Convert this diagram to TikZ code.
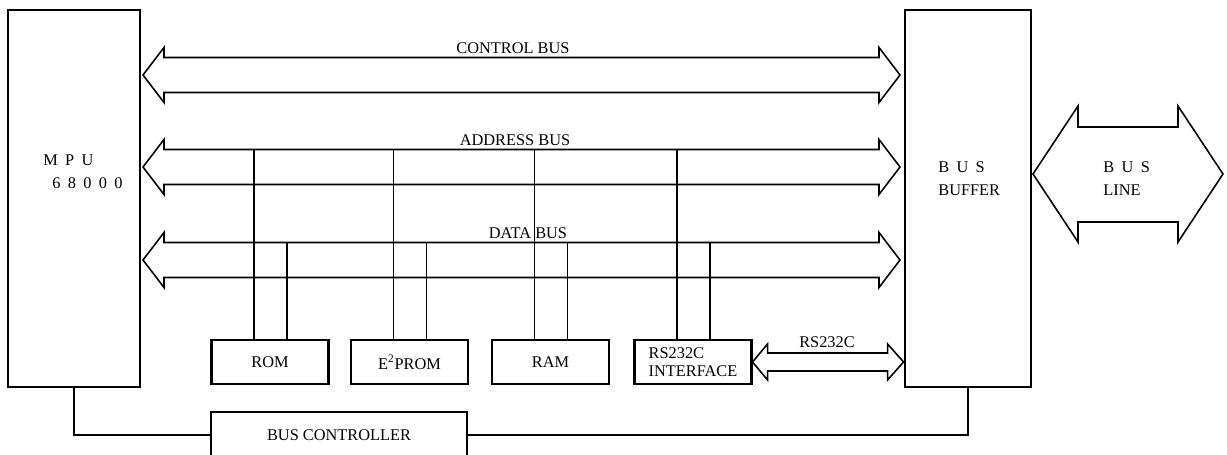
\documentclass[tikz,border=0pt]{standalone}
\usepackage{fontspec}
\setmainfont{Liberation Serif}
\begin{document}
\begin{tikzpicture}[x=0.02cm, y=-0.02cm, line join=miter,
    blk/.style={draw, line width=1.2pt, inner sep=0pt, font=\fontsize{9.3}{10.2}\selectfont},
    mem/.style={blk, minimum width=2.34cm, minimum height=0.88cm},
    bus/.style={draw, line width=0.9pt},
    wire/.style={draw, line width=1pt},
    txt/.style={inner sep=0pt, font=\fontsize{9.3}{13}\selectfont},
    wide/.style={execute at begin node={\spaceskip=0.45em\relax}}]
  \useasboundingbox (0,0) rectangle (1227,455);

  % MPU und Puffer
  \node[blk, minimum width=2.64cm, minimum height=7.54cm] (MPU) at (74,198.5) {};
  \node[txt, wide, anchor=west] (mpuname) at (43,160) {M P U};
  \node[txt, wide, anchor=west] (mputype) at (52,183) {6 8 0 0 0};
  \node[blk, minimum width=2.52cm, minimum height=7.54cm] (BUF) at (968,198.5) {};
  \node[txt, wide, anchor=west, align=left] (bufname) at (938,178.5) {B U S\\BUFFER};

  % Speicher und Schnittstelle
  \node[mem] (ROM) at (270,362) {ROM};
  \node[mem] (EPROM) at (409.5,362) {E\textsuperscript{2}PROM};
  \node[mem] (RAM) at (550.5,362) {RAM};
  \node[mem, align=left] (RSIF) at (693,362) {RS232C\\INTERFACE};
  \node[blk, minimum width=5.12cm, minimum height=0.92cm] (BC) at (339,435) {BUS CONTROLLER};

  % Busse
  \foreach \yy/\xx/\name in {75/513/CONTROL BUS, 167/515/ADDRESS BUS, 260/528/DATA BUS} {
    \draw[bus] (143,\yy) -- (164,\yy-27.5) -- (164,\yy-17.5) -- (879,\yy-17.5) -- (879,\yy-27.5)
      -- (900,\yy) -- (879,\yy+27.5) -- (879,\yy+17.5) -- (164,\yy+17.5) -- (164,\yy+27.5) -- cycle;
    \node[txt, anchor=base] (lbl\yy) at (\xx,\yy-21) {\name};
  }

  \coordinate (abus) at (0,149.5);
  \coordinate (dbus) at (0,242.5);
  \foreach \m in {ROM,EPROM,RAM,RSIF} {
    \draw[wire] (\m.north) ++(-16,0) coordinate (up) -- (up |- abus);
    \draw[wire] (\m.north) ++(17,0) coordinate (dn) -- (dn |- dbus);
  }

  % RS232C
  \draw[bus] (RSIF.east) -- ++(15,-18) -- ++(0,9) -- ++(120,0) -- ++(0,-9) -- ++(16,18)
    -- ++(-16,18) -- ++(0,-9) -- ++(-120,0) -- ++(0,9) -- cycle;
  \node[txt, anchor=base] (rslbl) at (827,348) {RS232C};

  % Steuerleitung
  \draw[wire] (MPU.south) |- (BC.west);
  \draw[wire] (BC.east) -| (BUF.south);

  % Busleitung
  \draw[bus] (1033,174) -- (1078,106) -- (1078,127) -- (1178,127) -- (1178,106) -- (1223,174)
    -- (1178,242) -- (1178,222) -- (1078,222) -- (1078,242) -- cycle;
  \node[txt, wide, anchor=west, align=left] (linename) at (1103,178.5) {B U S\\LINE};
\end{tikzpicture}
\end{document}
